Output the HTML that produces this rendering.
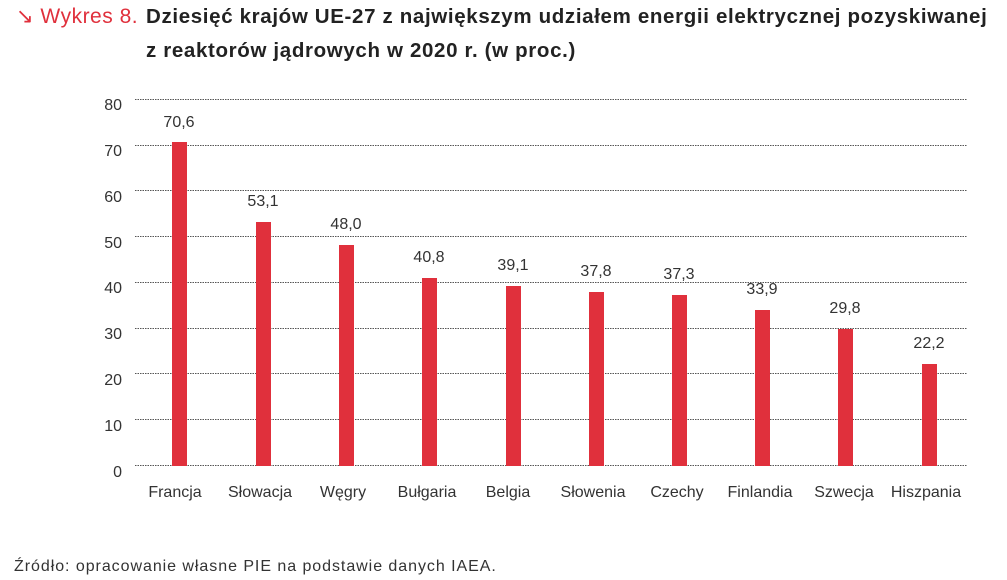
<!DOCTYPE html><html><head><meta charset="utf-8"><style>
body{margin:0;width:1007px;height:580px;background:#fff;font-family:"Liberation Sans",sans-serif;position:relative;overflow:hidden}
.t{position:absolute;font-size:20.5px;font-weight:bold;color:#222;left:146px;line-height:36px;letter-spacing:0.65px;white-space:nowrap}
</style></head><body>
<div style="position:absolute;left:16px;top:-1px;font-size:21px;color:#e0303c;line-height:36px;letter-spacing:0.5px">↘ Wykres 8.</div>
<div class="t" style="top:-1px">Dziesięć krajów UE-27 z największym udziałem energii elektrycznej pozyskiwanej</div>
<div class="t" style="top:33px">z reaktorów jądrowych w 2020 r. (w proc.)</div>
<svg width="1007" height="580" style="position:absolute;left:0;top:0" font-family="Liberation Sans,sans-serif">
<g stroke="#555" stroke-width="1" stroke-dasharray="1.5,1">
<line x1="135" x2="967" y1="99.5" y2="99.5"/><line x1="135" x2="967" y1="145.5" y2="145.5"/><line x1="135" x2="967" y1="190.5" y2="190.5"/><line x1="135" x2="967" y1="236.5" y2="236.5"/><line x1="135" x2="967" y1="282.5" y2="282.5"/><line x1="135" x2="967" y1="328.5" y2="328.5"/><line x1="135" x2="967" y1="373.5" y2="373.5"/><line x1="135" x2="967" y1="419.5" y2="419.5"/><line x1="135" x2="967" y1="465.5" y2="465.5"/>
</g>
<g font-size="16" fill="#333" text-anchor="end">
<text x="122" y="110">80</text><text x="122" y="156">70</text><text x="122" y="202">60</text><text x="122" y="248">50</text><text x="122" y="293">40</text><text x="122" y="339">30</text><text x="122" y="385">20</text><text x="122" y="431">10</text><text x="122" y="477">0</text>
</g>
<g fill="#e0303c">
<rect x="172" y="142" width="15" height="324"/><rect x="256" y="222" width="15" height="244"/><rect x="339" y="245" width="15" height="221"/><rect x="422" y="278" width="15" height="188"/><rect x="506" y="286" width="15" height="180"/><rect x="589" y="292" width="15" height="174"/><rect x="672" y="295" width="15" height="171"/><rect x="755" y="310" width="15" height="156"/><rect x="838" y="329" width="15" height="137"/><rect x="922" y="364" width="15" height="102"/>
</g>
<g font-size="16" fill="#333" text-anchor="middle">
<text x="179" y="127">70,6</text><text x="263" y="206">53,1</text><text x="346" y="229">48,0</text><text x="429" y="262">40,8</text><text x="513" y="270">39,1</text><text x="596" y="276">37,8</text><text x="679" y="279">37,3</text><text x="762" y="294">33,9</text><text x="845" y="313">29,8</text><text x="929" y="348">22,2</text>
</g>
<g font-size="16" fill="#333" text-anchor="middle">
<text x="175" y="497">Francja</text><text x="260" y="497">Słowacja</text><text x="343" y="497">Węgry</text><text x="427" y="497">Bułgaria</text><text x="508" y="497">Belgia</text><text x="593" y="497">Słowenia</text><text x="677" y="497">Czechy</text><text x="760" y="497">Finlandia</text><text x="844" y="497">Szwecja</text><text x="926" y="497">Hiszpania</text>
</g>
<text x="14" y="571" font-size="16" fill="#333" letter-spacing="0.95">Źródło: opracowanie własne PIE na podstawie danych IAEA.</text>
</svg>
</body></html>
